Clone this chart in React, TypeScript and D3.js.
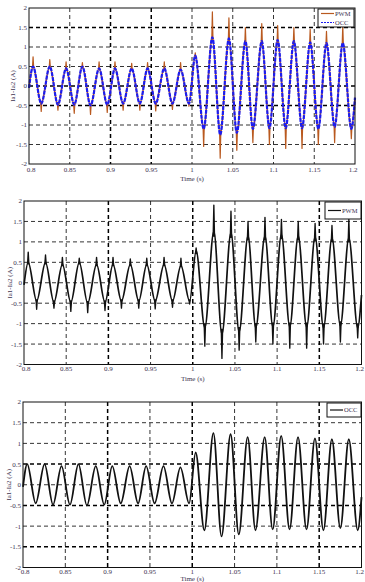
import React, { useEffect, useRef } from "react";
import * as d3 from "d3";

// time of each peak / trough (s)
const extremaTimes = [
  0.805, 0.815, 0.8255, 0.8355, 0.8455, 0.8555, 0.8655, 0.8755, 0.886, 0.896,
  0.9055, 0.9155, 0.926, 0.936, 0.9455, 0.9555, 0.966, 0.976, 0.986, 0.9963,
  1.004, 1.0143, 1.025, 1.0346, 1.0453, 1.055, 1.0655, 1.0747, 1.0856, 1.095,
  1.1051, 1.115, 1.125, 1.135, 1.145, 1.155, 1.165, 1.175, 1.185, 1.1955,
];
// OCC current at those extrema (A)
const occExtrema = [
  0.5, -0.45, 0.5, -0.48, 0.45, -0.48, 0.5, -0.5, 0.45, -0.48,
  0.45, -0.45, 0.45, -0.45, 0.45, -0.45, 0.45, -0.45, 0.42, -0.45,
  0.78, -1.1, 1.25, -1.25, 1.22, -1.2, 1.15, -1.1, 1.15, -1.08,
  1.18, -1.08, 1.15, -1.08, 1.12, -1.1, 1.1, -1.05, 1.1, -1.1,
];
// PWM current spikes at those extrema (A)
const pwmExtrema = [
  0.75, -0.65, 0.68, -0.62, 0.62, -0.7, 0.6, -0.73, 0.62, -0.68,
  0.62, -0.62, 0.58, -0.62, 0.6, -0.64, 0.62, -0.6, 0.6, -0.52,
  0.85, -1.55, 1.9, -1.85, 1.75, -1.65, 1.5, -1.45, 1.6, -1.5,
  1.55, -1.6, 1.5, -1.6, 1.45, -1.5, 1.4, -1.45, 1.55, -1.35,
];
// values at both ends of the window (t = 0.8 s and 1.2 s)
const edgeTimes = [0.8, 1.2];
const occEdges = [-0.05, -0.3];

const xTicks = [0.8, 0.85, 0.9, 0.95, 1, 1.05, 1.1, 1.15, 1.2];
const yTicks = [-2, -1.5, -1, -0.5, 0, 0.5, 1, 1.5, 2];
const yLabel = "Ia1-Ia2 (A)";
const xLabel = "Time (s)";

const BROWN = "#b9591f";
const BLUE = "#1c1cf0";
const TXT = "#3d3350";

type Panel = {
  top: number; bottom: number; left: number; right: number;
  ylabX: number; tickY: number; titleY: number;
  boldX: number[]; boldY: number[];
  series: { name: string; color: string; width: number; dash?: string; kind: "occ" | "pwm" }[];
  legend: { x0: number; y0: number; x1: number; y1: number };
};

const panels: Panel[] = [
  {
    top: 8, bottom: 164, left: 29, right: 355, ylabX: 13, tickY: 172, titleY: 181,
    boldX: [0.9, 0.95], boldY: [1.5, 0, -0.5],
    series: [
      { name: "PWM", color: BROWN, width: 1.5, kind: "pwm" },
      { name: "OCC", color: BLUE, width: 2.2, dash: "4,1", kind: "occ" },
    ],
    legend: { x0: 318, y0: 9, x1: 354, y1: 27 },
  },
  {
    top: 201, bottom: 364.5, left: 24, right: 361.5, ylabX: 10, tickY: 371, titleY: 381,
    boldX: [0.9, 1, 1.15], boldY: [],
    series: [{ name: "PWM", color: "#111", width: 1.7, kind: "pwm" }],
    legend: { x0: 325, y0: 202, x1: 361, y1: 219 },
  },
  {
    top: 402, bottom: 567.5, left: 23, right: 361.5, ylabX: 9, tickY: 574, titleY: 581,
    boldX: [0.9, 1, 1.15], boldY: [0.5, -0.5, -1.5],
    series: [{ name: "OCC", color: "#111", width: 1.8, kind: "occ" }],
    legend: { x0: 327, y0: 403, x1: 361, y1: 417 },
  },
];

const spikeHalf = 0.0008;

const occPoints = (): [number, number][] => [
  [edgeTimes[0], occEdges[0]],
  ...extremaTimes.map((t, i) => [t, occExtrema[i]] as [number, number]),
  [edgeTimes[1], occEdges[1]],
];

// thin spikes sitting on top of each extremum of the PWM current
const pwmSpikes = (): [number, number][][] =>
  extremaTimes.map((t, i) => [
    [t - spikeHalf, occExtrema[i] * 0.9],
    [t, pwmExtrema[i]],
    [t + spikeHalf, occExtrema[i] * 0.9],
  ]);

const App = () => {
  const ref = useRef<SVGSVGElement>(null);

  useEffect(() => {
    const svg = d3.select(ref.current);
    svg.selectAll("*").remove();
    svg.append("rect").attr("width", 365).attr("height", 582).attr("fill", "#fff");

    panels.forEach((p) => {
      const x = d3.scaleLinear().domain([0.8, 1.2]).range([p.left, p.right]);
      const y = d3.scaleLinear().domain([-2, 2]).range([p.bottom, p.top]);
      const g = svg.append("g");

      // grid
      xTicks.slice(1, -1).forEach((t) => {
        g.append("line")
          .attr("x1", x(t)).attr("x2", x(t)).attr("y1", p.top).attr("y2", p.bottom)
          .attr("stroke", "#000").attr("stroke-dasharray", "4,3")
          .attr("stroke-width", p.boldX.includes(t) ? 1.5 : 0.8);
      });
      yTicks.slice(1, -1).forEach((t) => {
        g.append("line")
          .attr("y1", y(t)).attr("y2", y(t)).attr("x1", p.left).attr("x2", p.right)
          .attr("stroke", "#000").attr("stroke-dasharray", "4,3")
          .attr("stroke-width", p.boldY.includes(t) ? 1.5 : 0.8);
      });

      // series
      const smooth = d3.line<[number, number]>()
        .x((d) => x(d[0])).y((d) => y(d[1]))
        .curve(d3.curveMonotoneX);
      const straight = d3.line<[number, number]>()
        .x((d) => x(d[0])).y((d) => y(d[1]));
      p.series.forEach((s) => {
        const sg = g.append("g")
          .attr("fill", "none").attr("stroke", s.color)
          .attr("stroke-linejoin", "round");
        sg.append("path")
          .attr("d", smooth(occPoints()))
          .attr("stroke-width", s.width)
          .attr("stroke-dasharray", s.dash ?? null);
        if (s.kind === "pwm") {
          pwmSpikes().forEach((sp) => {
            sg.append("path").attr("d", straight(sp)).attr("stroke-width", s.width * 0.8);
          });
        }
      });

      // frame
      g.append("rect")
        .attr("x", p.left).attr("y", p.top)
        .attr("width", p.right - p.left).attr("height", p.bottom - p.top)
        .attr("fill", "none").attr("stroke", "#111").attr("stroke-width", 1);

      // tick labels
      const font = "'Liberation Serif', 'DejaVu Serif', serif";
      yTicks.forEach((t) => {
        g.append("text").text(String(t))
          .attr("x", p.left - 2).attr("y", y(t)).attr("dy", "0.35em")
          .attr("text-anchor", "end").attr("font-family", font)
          .attr("font-size", 7).attr("fill", TXT);
      });
      xTicks.forEach((t) => {
        g.append("text").text(String(t))
          .attr("x", x(t) + (t === 0.8 ? 2 : t === 1.2 ? -2 : 0)).attr("y", p.tickY)
          .attr("text-anchor", "middle").attr("font-family", font)
          .attr("font-size", 7).attr("fill", TXT);
      });
      g.append("text").text(xLabel)
        .attr("x", (p.left + p.right) / 2).attr("y", p.titleY)
        .attr("text-anchor", "middle").attr("font-family", font)
        .attr("font-size", 7).attr("fill", TXT);
      g.append("text").text(yLabel)
        .attr("transform", `translate(${p.ylabX},${(p.top + p.bottom) / 2}) rotate(-90)`)
        .attr("dy", "0.35em")
        .attr("text-anchor", "middle").attr("font-family", font)
        .attr("font-size", 7).attr("fill", TXT);

      // legend
      const L = p.legend;
      g.append("rect")
        .attr("x", L.x0).attr("y", L.y0).attr("width", L.x1 - L.x0).attr("height", L.y1 - L.y0)
        .attr("fill", "#fff").attr("stroke", "#111").attr("stroke-width", 1);
      const rowH = (L.y1 - L.y0) / p.series.length;
      p.series.forEach((s, i) => {
        const cy = L.y0 + rowH * (i + 0.5);
        g.append("line")
          .attr("x1", L.x0 + 3).attr("x2", L.x0 + 16).attr("y1", cy).attr("y2", cy)
          .attr("stroke", s.color).attr("stroke-width", 1.2)
          .attr("stroke-dasharray", s.dash ? "2,1" : null);
        g.append("text").text(s.name)
          .attr("x", L.x0 + 17).attr("y", cy).attr("dy", "0.35em")
          .attr("font-family", font).attr("font-size", 6.5).attr("fill", TXT);
      });
    });
  }, []);

  return (
    <svg ref={ref} width={365} height={582}
      style={{ position: "absolute", left: 0, top: 0 }} />
  );
};

export default App;
